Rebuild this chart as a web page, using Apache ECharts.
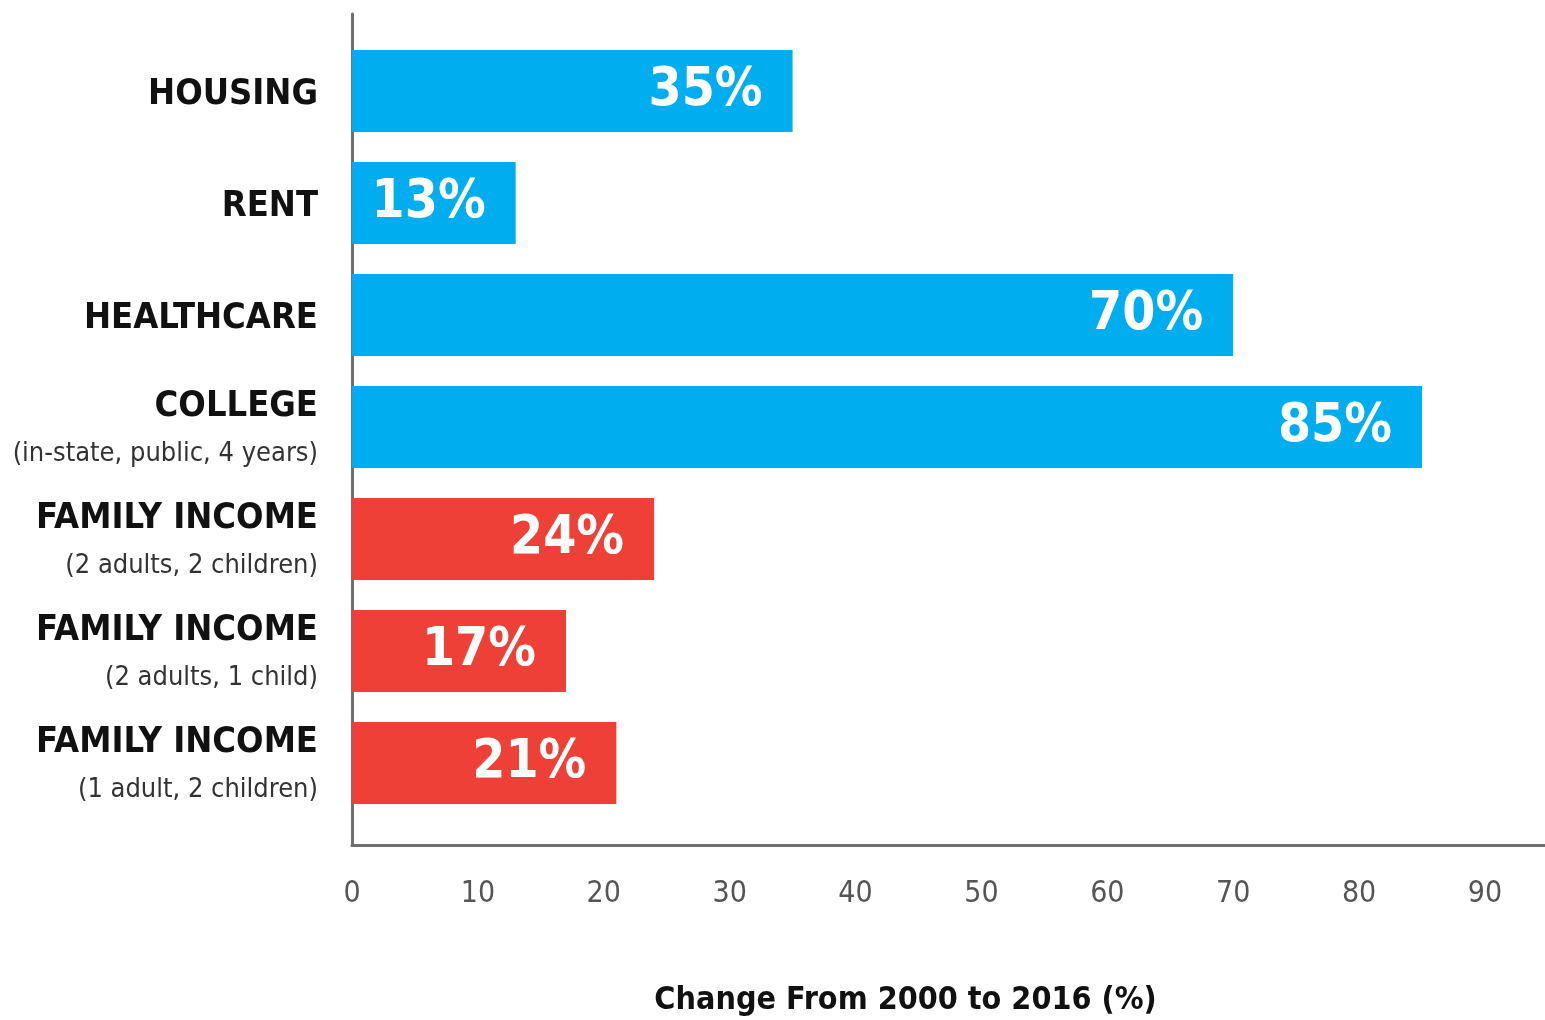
<!DOCTYPE html>
<html>
<head>
<meta charset="utf-8">
<script src="https://cdn.jsdelivr.net/npm/echarts@6/dist/echarts.min.js"></script>
<style>html,body{margin:0;padding:0;background:#fff}#c{width:1545px;height:1020px}</style>
</head>
<body>
<div id="c"></div>
<script>
var categories = ['HOUSING', 'RENT', 'HEALTHCARE', 'COLLEGE', 'FAMILY INCOME', 'FAMILY INCOME', 'FAMILY INCOME'];
var subLabels = ['', '', '', '(in-state, public, 4 years)', '(2 adults, 2 children)', '(2 adults, 1 child)', '(1 adult, 2 children)'];
var values = [35, 13, 70, 85, 24, 17, 21];
var groups = ['cost', 'cost', 'cost', 'cost', 'income', 'income', 'income'];
var axisTitle = 'Change From 2000 to 2016 (%)';

var FONT = '"Liberation Sans Narrow", "DejaVu Sans Condensed", "Open Sans", sans-serif';
var colors = { cost: '#00AEEF', income: '#EE4036' };

var chart = echarts.init(document.getElementById('c'));
var xMax = 94.77;
chart.setOption({
  backgroundColor: '#fff',
  animation: false,
  grid: [
    { left: 352, right: 0, top: 35, height: 784, outerBoundsMode: 'none', containLabel: false },
    { left: 352, right: 0, top: 14, height: 831, outerBoundsMode: 'none', containLabel: false }
  ],
  xAxis: [
    { gridIndex: 0, type: 'value', min: 0, max: xMax, interval: 10, show: false },
    {
      gridIndex: 1, type: 'value', min: 0, max: xMax, interval: 10,
      axisLine: { show: true, lineStyle: { color: '#6e6e6e', width: 3 } },
      axisTick: { show: false },
      splitLine: { show: false },
      axisLabel: { showMaxLabel: false, margin: 34, fontFamily: FONT, fontSize: 30, color: '#555' },
      name: axisTitle,
      nameLocation: 'middle',
      nameGap: 140,
      nameTextStyle: { fontFamily: FONT, fontSize: 32, fontWeight: 'bold', color: '#111', padding: [0, 86, 0, 0] }
    }
  ],
  yAxis: [
    {
      gridIndex: 0, type: 'category', inverse: true,
      data: categories,
      axisLine: { show: false }, axisTick: { show: false },
      axisLabel: {
        margin: 34,
        padding: [7, 0, 0, 0],
        formatter: function (v, i) {
          return subLabels[i] ? '{t|' + v + '}\n{s|' + subLabels[i] + '}' : '{t|' + v + '}';
        },
        rich: {
          t: { fontFamily: FONT, fontSize: 36, fontWeight: 'bold', color: '#111', lineHeight: 47, align: 'right' },
          s: { fontFamily: FONT, fontSize: 27, color: '#333', lineHeight: 47, align: 'right' }
        }
      }
    },
    {
      gridIndex: 1, type: 'value', min: 0, max: 1,
      axisLine: { show: true, lineStyle: { color: '#6e6e6e', width: 3 } },
      axisTick: { show: false }, axisLabel: { show: false }, splitLine: { show: false }
    }
  ],
  series: [{
    type: 'bar',
    xAxisIndex: 0, yAxisIndex: 0,
    barWidth: 82,
    data: values.map(function (v, i) { return { value: v, itemStyle: { color: colors[groups[i]] } }; }),
    label: {
      show: true, position: 'insideRight', distance: 30,
      formatter: '{c}%',
      fontFamily: FONT, fontSize: 53, fontWeight: 'bold', color: '#fff'
    }
  }]
});
</script>
</body>
</html>
